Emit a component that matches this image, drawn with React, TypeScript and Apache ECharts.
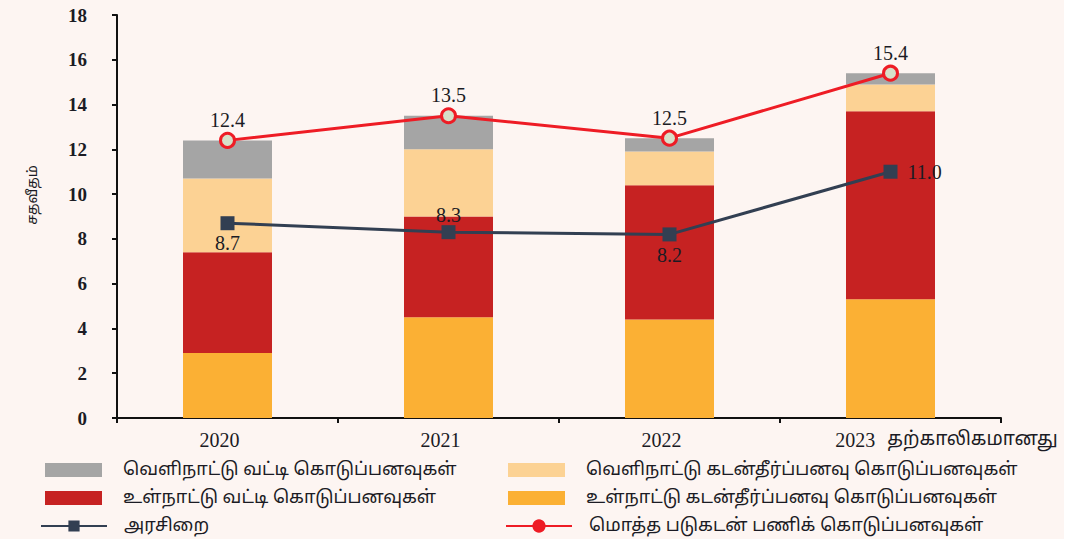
import React, { useEffect, useRef } from "react";
import * as echarts from "echarts";

const categories = ["2020", "2021", "2022", "2023"];
const provisionalNote = "தற்காலிகமானது";
const yTicks = [0, 2, 4, 6, 8, 10, 12, 14, 16, 18];

const domesticAmortization = [2.9, 4.5, 4.4, 5.3];
const domesticInterest = [4.5, 4.5, 6.0, 8.4];
const foreignAmortization = [3.3, 3.0, 1.5, 1.2];
const foreignInterest = [1.7, 1.5, 0.6, 0.5];
const totalDebtService = [12.4, 13.5, 12.5, 15.4];
const govRevenue = [8.7, 8.3, 8.2, 11.0];

const names = {
  foreignInterest: "வெளிநாட்டு வட்டி கொடுப்பனவுகள்",
  foreignAmort: "வெளிநாட்டு கடன்தீர்ப்பனவு கொடுப்பனவுகள்",
  domesticInterest: "உள்நாட்டு வட்டி கொடுப்பனவுகள்",
  domesticAmort: "உள்நாட்டு கடன்தீர்ப்பனவு கொடுப்பனவுகள்",
  revenue: "அரசிறை",
  total: "மொத்த படுகடன் பணிக் கொடுப்பனவுகள்",
};
const yAxisName = "சதவீதம்";

const legendLayout = [
  { name: names.foreignInterest, icon: "rect", left: 45, top: 461, color: "" },
  { name: names.foreignAmort, icon: "rect", left: 508, top: 461, color: "" },
  { name: names.domesticInterest, icon: "rect", left: 45, top: 489, color: "" },
  { name: names.domesticAmort, icon: "rect", left: 508, top: 489, color: "" },
  { name: names.revenue, icon: "", left: 40, top: 517, color: "#323f52" },
  { name: names.total, icon: "", left: 505, top: 517, color: "#ee1c25" },
];

const revenueLabelPos = ["bottom", "top", "bottom", "right"];
const revenueLabelDist = [3, 0, 4, 10];

export default function App() {
  const ref = useRef<HTMLDivElement>(null);
  useEffect(() => {
    if (!ref.current) return;
    const chart = echarts.init(ref.current, null, { renderer: "svg" });
    const serif = "'Liberation Serif', 'Times New Roman', serif";
    const tamil = "'Noto Sans Tamil', 'Latha', 'Noto Sans', sans-serif";
    const barBase = { type: "bar", stack: "a", barWidth: 89 };
    const labelStyle = {
      show: true,
      fontFamily: serif,
      fontSize: 20,
      color: "#1b1b24",
      formatter: (p: any) => Number(p.value).toFixed(1),
    };
    const option: any = {
      animation: false,
      backgroundColor: "#fdf5f2",
      grid: { left: 117, right: 63, top: 15, bottom: 121 },
      xAxis: {
        type: "category",
        data: categories,
        axisLine: { lineStyle: { color: "#111", width: 2 } },
        axisTick: { show: true, length: 5, lineStyle: { color: "#111", width: 2 } },
        axisLabel: {
          margin: 12,
          interval: 0,
          hideOverlap: false,
          formatter: (v: string, i: number) =>
            i === categories.length - 1
              ? `{s| }{y|${v}}{g| }{t|${provisionalNote}}`
              : `{y|${v}}{p| }`,
          rich: {
            y: { fontFamily: serif, fontSize: 20, color: "#1b1b24" },
            t: { fontFamily: tamil, fontSize: 19, color: "#1b1b24" },
            s: { width: 112 },
            g: { width: 12 },
            p: { width: 16 },
          },
        },
      },
      yAxis: {
        type: "value",
        min: 0,
        max: 18,
        interval: 2,
        splitLine: { show: false },
        axisLine: { show: true, lineStyle: { color: "#111", width: 2 } },
        axisTick: { show: true, length: 5, lineStyle: { color: "#111", width: 2 } },
        axisLabel: {
          margin: 30,
          fontFamily: serif,
          fontSize: 19,
          fontWeight: "bold",
          color: "#1b1b24",
          formatter: (v: number) => (yTicks.includes(v) ? String(v) : ""),
        },
      },
      legend: legendLayout.map((l) => ({
        orient: "horizontal",
        left: l.left,
        top: l.top,
        padding: 0,
        itemWidth: l.icon ? 57 : 66,
        itemHeight: 14,
        textStyle: {
          fontFamily: tamil,
          fontSize: 18,
          color: "#1b1b24",
          padding: [0, 0, 0, l.icon ? 16 : 12],
        },
        data: [
          l.icon
            ? { name: l.name, icon: l.icon }
            : { name: l.name, itemStyle: { color: l.color, borderColor: l.color } },
        ],
      })),
      graphic: [
        {
          type: "text",
          x: 33,
          y: 195,
          rotation: Math.PI / 2,
          style: {
            text: yAxisName,
            fontFamily: tamil,
            fontSize: 14,
            fill: "#1b1b24",
            align: "center",
            verticalAlign: "middle",
          },
        },
      ],
      series: [
        { ...barBase, name: names.domesticAmort, data: domesticAmortization, itemStyle: { color: "#fbb034" } },
        { ...barBase, name: names.domesticInterest, data: domesticInterest, itemStyle: { color: "#c62222" } },
        { ...barBase, name: names.foreignAmort, data: foreignAmortization, itemStyle: { color: "#fcd294" } },
        { ...barBase, name: names.foreignInterest, data: foreignInterest, itemStyle: { color: "#a5a5a5" } },
        {
          type: "line",
          name: names.revenue,
          data: govRevenue.map((v, i) => ({
            value: v,
            label: { position: revenueLabelPos[i], distance: revenueLabelDist[i] },
          })),
          symbol: "rect",
          symbolSize: 14,
          lineStyle: { color: "#323f52", width: 3 },
          itemStyle: { color: "#323f52" },
          label: labelStyle,
          z: 5,
        },
        {
          type: "line",
          name: names.total,
          data: totalDebtService,
          symbol: "circle",
          symbolSize: 14,
          lineStyle: { color: "#ee1c25", width: 3 },
          itemStyle: { color: "#d6e0c9", borderColor: "#ee1c25", borderWidth: 3 },
          label: { ...labelStyle, position: "top", distance: 2 },
          z: 6,
        },
      ],
    };
    chart.setOption(option);
    return () => chart.dispose();
  }, []);
  return (
    <div style={{ position: "fixed", left: 0, top: 0, width: 1076, height: 539, background: "#ffffff" }}>
      <div ref={ref} style={{ width: 1064, height: 539 }} />
    </div>
  );
}
